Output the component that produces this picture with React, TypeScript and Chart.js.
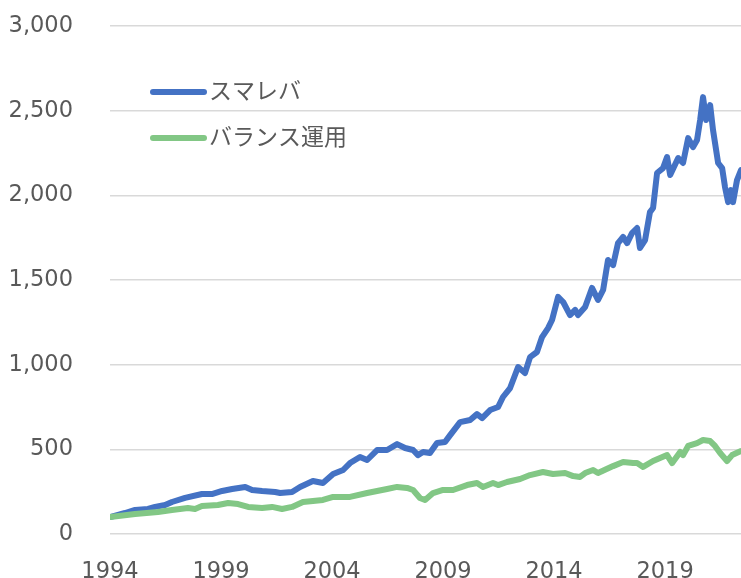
import React, { useEffect, useRef } from "react";
import { Chart, registerables } from "chart.js";

Chart.register(...registerables);

const seriesNames = ["スマレバ", "バランス運用"];
const xTickYears = [1994, 1999, 2004, 2009, 2014, 2019];
const xMin = 1994;
const xMax = 2022.42;
const yMin = 0;
const yMax = 3000;
const yStep = 500;

const sumalebaYears = [
  1994.0, 1994.68, 1995.13, 1995.71, 1996.03, 1996.48, 1996.79, 1997.38, 1998.14, 1998.59,
  1999.05, 1999.5, 2000.09, 2000.4, 2000.85, 2001.44, 2001.66, 2002.2, 2002.56, 2003.14,
  2003.59, 2004.05, 2004.5, 2004.81, 2005.26, 2005.58, 2006.03, 2006.48, 2006.93, 2007.29,
  2007.65, 2007.87, 2008.1, 2008.41, 2008.73, 2009.09, 2009.32, 2009.77, 2010.22, 2010.53,
  2010.76, 2011.12, 2011.48, 2011.7, 2012.02, 2012.38, 2012.69, 2012.92, 2013.23, 2013.46,
  2013.73, 2013.91, 2014.18, 2014.41, 2014.72, 2014.95, 2015.08, 2015.4, 2015.71, 2015.98,
  2016.21, 2016.43, 2016.66, 2016.88, 2017.11, 2017.29, 2017.51, 2017.74, 2017.87, 2018.1,
  2018.32, 2018.46, 2018.64, 2018.91, 2019.09, 2019.23, 2019.59, 2019.81, 2020.04, 2020.26,
  2020.44, 2020.58, 2020.71, 2020.85, 2021.03, 2021.16, 2021.39, 2021.57, 2021.7, 2021.84,
  2021.97, 2022.06, 2022.24, 2022.42,
];
const sumalebaValues = [
  100, 124, 142, 148, 160, 171, 189, 213, 236, 236,
  254, 266, 278, 260, 254, 248, 242, 248, 278, 313,
  301, 354, 378, 419, 455, 437, 496, 496, 531, 508,
  496, 466, 484, 478, 537, 543, 584, 661, 673, 708,
  685, 732, 750, 809, 862, 986, 951, 1045, 1075, 1163,
  1216, 1264, 1400, 1370, 1293, 1323, 1293, 1340, 1453, 1382,
  1441, 1618, 1588, 1718, 1754, 1718, 1777, 1807, 1689, 1736,
  1901, 1925, 2132, 2161, 2226, 2120, 2220, 2191, 2338, 2285,
  2327, 2445, 2580, 2445, 2533, 2386, 2191, 2161, 2049, 1960,
  2031, 1960, 2090, 2149,
];

const balanceYears = [
  1994.0, 1995.13, 1996.16, 1996.79, 1997.51, 1997.83, 1998.14, 1998.86, 1999.32, 1999.77,
  2000.22, 2000.85, 2001.3, 2001.75, 2002.2, 2002.69, 2003.59, 2004.05, 2004.81, 2005.58,
  2006.48, 2006.93, 2007.38, 2007.65, 2007.96, 2008.19, 2008.55, 2009.0, 2009.45, 2010.08,
  2010.53, 2010.8, 2011.25, 2011.48, 2011.88, 2012.47, 2012.92, 2013.5, 2013.95, 2014.5,
  2014.86, 2015.17, 2015.4, 2015.76, 2015.98, 2016.66, 2017.11, 2017.56, 2017.74, 2018.01,
  2018.46, 2019.09, 2019.32, 2019.68, 2019.81, 2020.04, 2020.44, 2020.71, 2021.03, 2021.25,
  2021.48, 2021.79, 2022.02, 2022.42,
];
const balanceValues = [
  100, 118, 130, 142, 153, 148, 165, 171, 183, 177,
  160, 153, 160, 148, 160, 189, 201, 219, 219, 242,
  266, 278, 272, 260, 213, 201, 242, 260, 260, 289,
  301, 278, 301, 289, 307, 325, 348, 366, 354, 360,
  342, 337, 360, 378, 360, 401, 425, 419, 419, 396,
  431, 466, 419, 484, 466, 520, 537, 555, 549, 520,
  478, 431, 466, 490,
];

const seriesColors = ["#4472C4", "#82C785"];

function toPoints(xs: number[], ys: number[]) {
  return xs.map((x, i) => ({ x, y: ys[i] }));
}

const legendPlugin = {
  id: "insideLegend",
  afterDraw(chart: any) {
    const ctx = chart.ctx;
    const rows = [92, 138];
    ctx.save();
    chart.data.datasets.forEach((ds: any, i: number) => {
      const y = rows[i];
      ctx.strokeStyle = ds.borderColor;
      ctx.lineWidth = 6;
      ctx.lineCap = "round";
      ctx.beginPath();
      ctx.moveTo(153, y);
      ctx.lineTo(204, y);
      ctx.stroke();
      ctx.fillStyle = "#595959";
      ctx.font = '23px "Noto Sans CJK JP", "DejaVu Sans", sans-serif';
      ctx.textBaseline = "middle";
      ctx.textAlign = "left";
      ctx.fillText(ds.label, 209, y - 2);
    });
    ctx.restore();
  },
};

export default function App() {
  const canvasRef = useRef<HTMLCanvasElement | null>(null);

  useEffect(() => {
    const canvas = canvasRef.current;
    if (!canvas) return;
    const H = 578;
    const chart = new Chart(canvas, {
      type: "line",
      data: {
        datasets: [
          {
            label: seriesNames[0],
            data: toPoints(sumalebaYears, sumalebaValues),
            borderColor: seriesColors[0],
            backgroundColor: seriesColors[0],
            borderWidth: 6,
            pointRadius: 0,
            tension: 0,
            borderJoinStyle: "round",
            borderCapStyle: "round",
            order: 2,
          },
          {
            label: seriesNames[1],
            data: toPoints(balanceYears, balanceValues),
            borderColor: seriesColors[1],
            backgroundColor: seriesColors[1],
            borderWidth: 6,
            pointRadius: 0,
            tension: 0,
            borderJoinStyle: "round",
            borderCapStyle: "round",
            order: 1,
          },
        ],
      },
      options: {
        responsive: false,
        animation: false,
        devicePixelRatio: 1,
        layout: { padding: { top: 26, left: 0, right: 0, bottom: 0 } },
        plugins: {
          legend: { display: false },
          tooltip: { enabled: false },
        },
        scales: {
          x: {
            type: "linear",
            min: xMin,
            max: xMax,
            grid: { display: false, drawTicks: false },
            border: { display: false },
            afterBuildTicks(scale: any) {
              scale.ticks = xTickYears.map((v) => ({ value: v }));
            },
            afterFit(scale: any) {
              scale.height = H - 534;
            },
            ticks: {
              autoSkip: false,
              maxRotation: 0,
              padding: 25,
              color: "#595959",
              font: { family: '"DejaVu Sans"', size: 22.5 },
              callback: (v: any) => String(v),
            },
          },
          y: {
            min: yMin,
            max: yMax,
            grid: {
              color: "#d9d9d9",
              lineWidth: 1.5,
              drawTicks: true,
              tickLength: 37,
              tickColor: "rgba(0,0,0,0)",
            },
            border: { display: false },
            afterFit(scale: any) {
              scale.width = 110;
            },
            ticks: {
              stepSize: yStep,
              padding: 0,
              color: "#595959",
              font: { family: '"DejaVu Sans"', size: 22.5 },
              callback: (v: any) => Number(v).toLocaleString("en-US"),
            },
          },
        },
      },
      plugins: [legendPlugin],
    });
    return () => chart.destroy();
  }, []);

  return (
    <div style={{ position: "fixed", left: 0, top: 0, width: 741, height: 578, background: "#fff" }}>
      <canvas ref={canvasRef} width={741} height={578} style={{ width: 741, height: 578, display: "block" }} />
    </div>
  );
}
